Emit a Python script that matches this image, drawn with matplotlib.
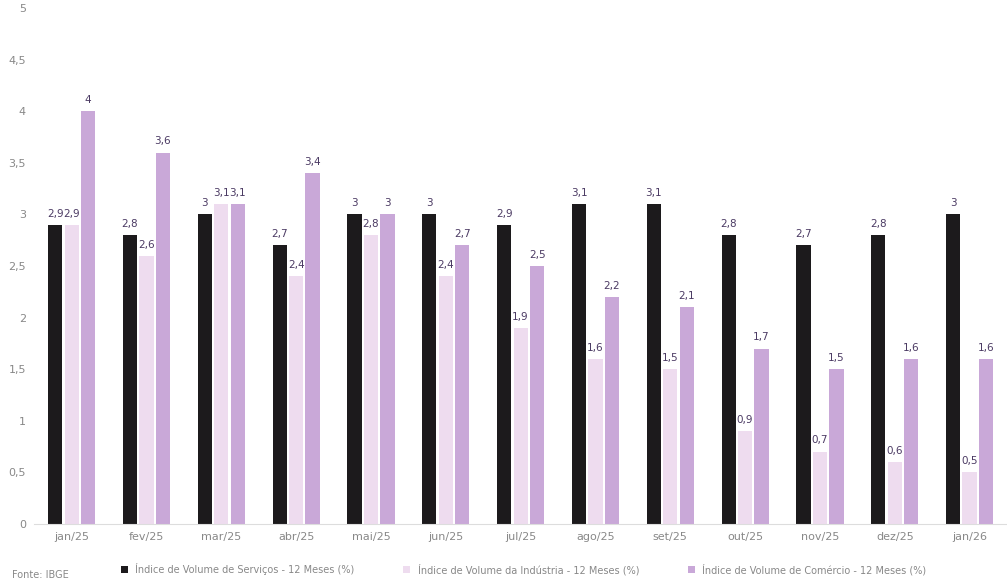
import numpy as np
import matplotlib
matplotlib.use("Agg")
import matplotlib.pyplot as plt

# ----------------------------------------------------------
# DATA
# ----------------------------------------------------------

months = ["jan/25", "fev/25", "mar/25", "abr/25", "mai/25", "jun/25", "jul/25",
          "ago/25", "set/25", "out/25", "nov/25", "dez/25", "jan/26"]

servicos = [2.9, 2.8, 3.0, 2.7, 3.0, 3.0, 2.9, 3.1, 3.1, 2.8, 2.7, 2.8, 3.0]
industria = [2.9, 2.6, 3.1, 2.4, 2.8, 2.4, 1.9, 1.6, 1.5, 0.9, 0.7, 0.6, 0.5]
comercio = [4.0, 3.6, 3.1, 3.4, 3.0, 2.7, 2.5, 2.2, 2.1, 1.7, 1.5, 1.6, 1.6]

series_labels = [
    "Índice de Volume de Serviços - 12 Meses (%)",
    "Índice de Volume da Indústria - 12 Meses (%)",
    "Índice de Volume de Comércio - 12 Meses (%)",
]

y_ticks = [0, 0.5, 1, 1.5, 2, 2.5, 3, 3.5, 4, 4.5, 5]

# ----------------------------------------------------------
# PLOT
# ----------------------------------------------------------

COLORS = ["#1c1a1c", "#eedcef", "#c9a8d8"]
LABEL_COLOR = "#4b3a63"

fig = plt.figure(figsize=(10.07, 5.84), dpi=100)
ax = fig.add_axes([0.034, 0.103, 0.966, 0.883])

x = np.arange(len(months))
width = 0.19
step = 0.22

for i, (vals, color, label) in enumerate(zip([servicos, industria, comercio], COLORS, series_labels)):
    pos = x + (i - 1) * step
    bars = ax.bar(pos, vals, width=width, color=color, label=label, zorder=2)
    for b, v in zip(bars, vals):
        txt = f"{v:g}".replace(".", ",")
        ax.text(b.get_x() + b.get_width() / 2, v + 0.06, txt,
                ha="center", va="bottom", fontsize=7.5, color=LABEL_COLOR)

ax.set_xlim(-0.5, len(months) - 0.5)
ax.set_ylim(0, 5)
ax.set_yticks(y_ticks)
ax.set_yticklabels([f"{t:g}".replace(".", ",") for t in y_ticks])
ax.set_xticks(x)
ax.set_xticklabels(months)
ax.tick_params(axis="both", colors="#888888", labelsize=8, length=0)
ax.tick_params(axis="x", pad=6)
ax.tick_params(axis="y", pad=6)

for side in ["top", "right", "left"]:
    ax.spines[side].set_visible(False)
ax.spines["bottom"].set_color("#dddddd")

fig.legend(loc="lower center", bbox_to_anchor=(0.52, 0.0), ncol=3, frameon=False,
           fontsize=7, handlelength=0.7, handleheight=0.7, columnspacing=5,
           labelcolor="#888888")

fig.text(0.012, 0.01, "Fonte: IBGE", fontsize=7, color="#888888")

fig.savefig("out.png", dpi=100)
